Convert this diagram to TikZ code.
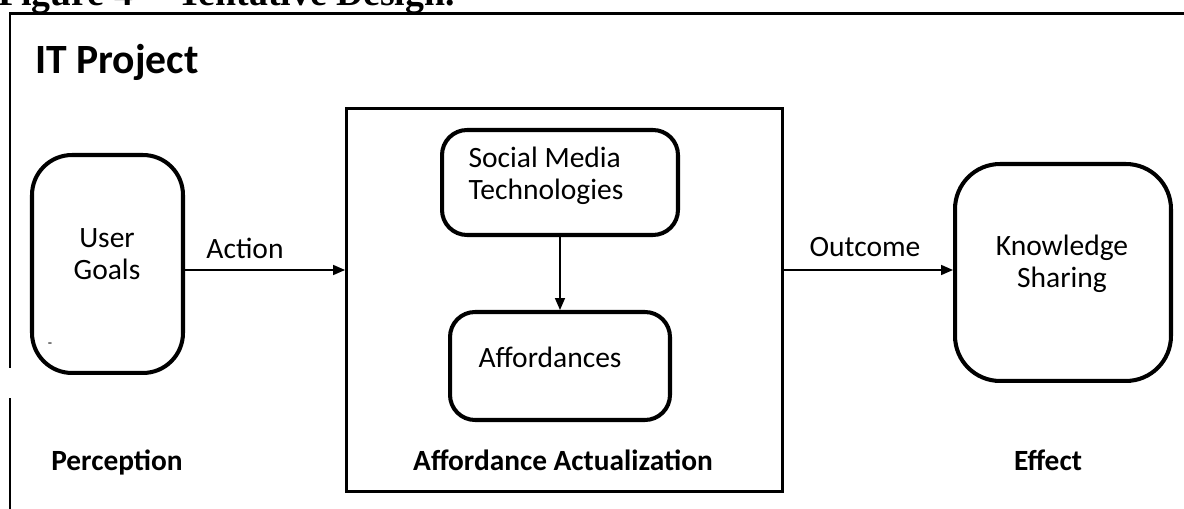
\documentclass[tikz,border=0pt]{standalone}
\usepackage{fontspec}
\setmainfont{Carlito}
\newfontfamily\capfont{Liberation Serif}
\usetikzlibrary{arrows.meta,positioning,calc}
\tikzset{
  frame/.style={line width=1.7pt, black},
  rbox/.style={draw, line width=2.3pt, inner sep=0pt},
  abox/.style={draw, line width=1.7pt, inner sep=0pt},
  flow/.style={line width=0.85pt, -{Triangle[length=6.8pt,width=5.7pt]}},
  lbl/.style={inner sep=0pt, align=center, font=\fontsize{16.8}{18.5}\selectfont},
  hdr/.style={inner sep=0pt, font=\bfseries\fontsize{16.7}{18.5}\selectfont},
}

\begin{document}
\begin{tikzpicture}[x=0.02cm, y=-0.02cm]
 \useasboundingbox (0,0) rectangle (1184,509);
 \clip (0,0) rectangle (1184,509);
 % caption, cut at the top
 \node[anchor=base west, inner sep=0pt, font=\capfont\bfseries\fontsize{21.5}{24}\selectfont] (cap) at (-2,6) {Figure 4 -- Tentative Design.};
 % outer frame
 \draw[frame] (10,530) -- (10,398);
 \draw[frame] (10,368) -- (10,14) -- (1200,14);
 \node[anchor=west, inner sep=0pt, font=\bfseries\fontsize{23.7}{27}\selectfont] (proj) at (35,62) {IT Project};
 % perception
 \node[rbox, rounded corners=0.8cm, minimum width=3.02cm, minimum height=4.36cm] (goals) at (107.5,264) {};
 \node[lbl] (goalsT) at (107,254) {User\\Goals};
 \node[inner sep=0pt, font=\fontsize{8}{8}\selectfont] (tick) at (50,345) {-};
 \node[hdr] (perc) at (117,462) {Perception};
 % affordance actualization
 \node[abox, minimum width=8.72cm, minimum height=7.66cm] (act) at (564.5,300) {};
 \node[rbox, rounded corners=0.5cm, minimum width=4.72cm, minimum height=2.1cm] (smt) at (560,182.5) {};
 \node[lbl, align=left] (smtT) at (546,176) {Social Media\\Technologies};
 \node[rbox, rounded corners=0.5cm, minimum width=4.4cm, minimum height=2.16cm] (aff) at (560,366) {};
 \node[lbl] (affT) at (550,357) {Affordances};
 \node[hdr] (actT) at (563,460) {Affordance Actualization};
 \draw[flow] (smt.south) -- (aff.north);
 % effect
 \node[rbox, rounded corners=0.9cm, minimum width=4.32cm, minimum height=4.34cm] (ks) at (1063,272.5) {};
 \node[lbl] (ksT) at (1062,264) {Knowledge\\Sharing};
 \node[hdr] (eff) at (1048,460) {Effect};
 % connectors
 \coordinate (lvl) at (0,270);
 \draw[flow] (goals.east |- lvl) -- (act.west |- lvl);
 \draw[flow] (act.east |- lvl) -- (ks.west |- lvl);
 \node[lbl] (actn) at (245,248) {Action};
 \node[lbl] (outc) at (865,247) {Outcome};
\end{tikzpicture}
\end{document}
